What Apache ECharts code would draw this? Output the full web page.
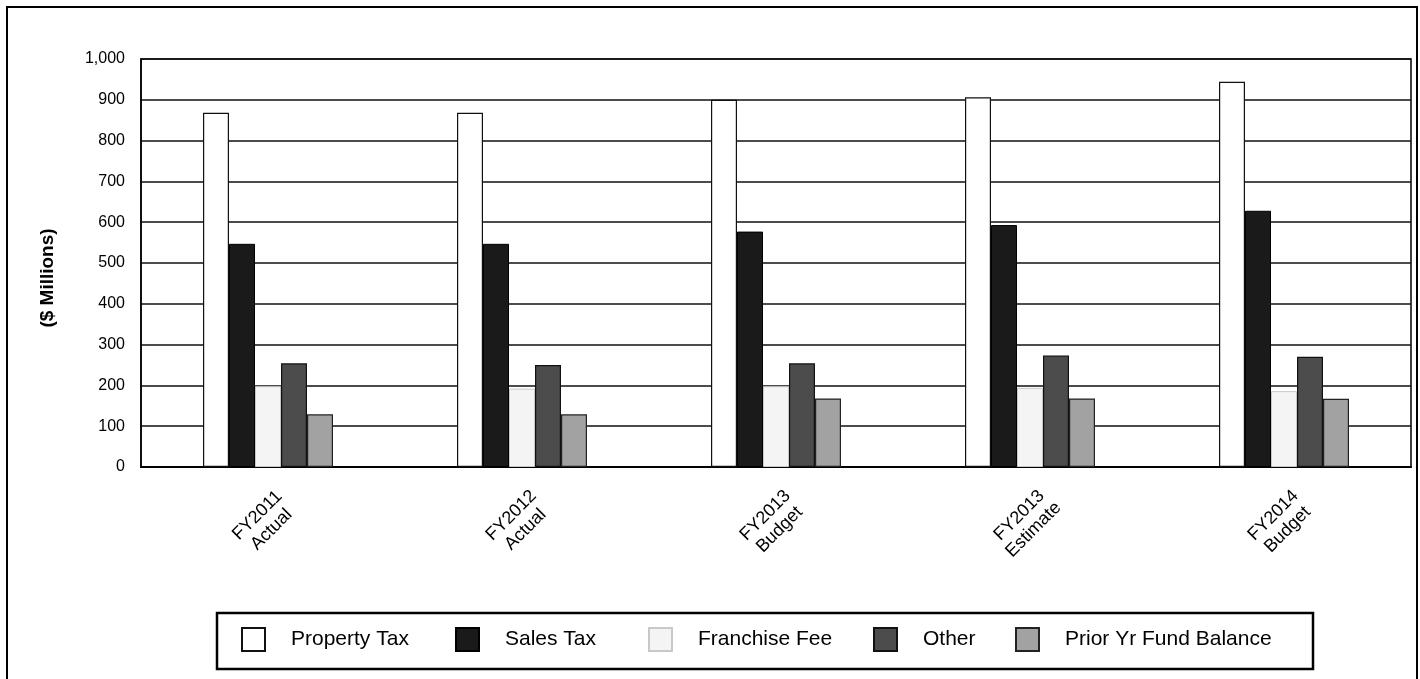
<!DOCTYPE html>
<html>
<head>
<meta charset="utf-8">
<script src="https://cdn.jsdelivr.net/npm/echarts@6/dist/echarts.min.js"></script>
<style>
html,body{margin:0;padding:0;background:#fff;}
#chart{width:1420px;height:679px;}
</style>
</head>
<body>
<div id="chart"></div>
<script>
var categories = ['FY2011\nActual', 'FY2012\nActual', 'FY2013\nBudget', 'FY2013\nEstimate', 'FY2014\nBudget'];
var propertyTax = [868, 868, 900, 906, 944];
var salesTax = [547, 547, 577, 593, 628];
var franchiseFee = [198, 192, 198, 194, 186];
var other = [254, 250, 254, 273, 270];
var priorYrFundBalance = [129, 129, 168, 168, 167];
var yTicks = { min: 0, max: 1000, interval: 100 };

var seriesDefs = [
  { name: 'Property Tax', data: propertyTax, color: '#ffffff', border: '#111111', bw: 1.2 },
  { name: 'Sales Tax', data: salesTax, color: '#1a1a1a', border: '#000000', bw: 1 },
  { name: 'Franchise Fee', data: franchiseFee, color: '#f4f4f4', border: '#c8c8c8', bw: 1 },
  { name: 'Other', data: other, color: '#4c4c4c', border: '#111111', bw: 1.2 },
  { name: 'Prior Yr Fund Balance', data: priorYrFundBalance, color: '#a2a2a2', border: '#222222', bw: 1.2 }
];

var legendLeft = [241, 455, 648, 873, 1015];
var legends = seriesDefs.map(function (s, i) {
  return {
    data: [s.name],
    left: legendLeft[i],
    top: 627,
    padding: 0,
    itemWidth: 23,
    itemHeight: 23,
    icon: 'rect',
    selectedMode: false,
    textStyle: { fontFamily: 'Liberation Sans, Arial, sans-serif', fontSize: 21, color: '#000', padding: [0, 0, 0, 21] }
  };
});

var chart = echarts.init(document.getElementById('chart'));
chart.setOption({
  animation: false,
  backgroundColor: '#ffffff',
  grid: { left: 141, right: 9, top: 59, bottom: 212, show: true, borderColor: '#000', borderWidth: 1.5, backgroundColor: 'transparent' },
  legend: legends,
  xAxis: {
    type: 'category',
    data: categories,
    axisLine: { lineStyle: { color: '#000', width: 2 } },
    axisTick: { show: false },
    axisLabel: {
      rotate: 45,
      align: 'center',
      verticalAlign: 'middle',
      margin: 52,
      padding: [0, 10, 0, 0],
      fontFamily: 'Liberation Sans, Arial, sans-serif',
      fontSize: 18,
      lineHeight: 20,
      color: '#000'
    }
  },
  yAxis: {
    type: 'value',
    min: yTicks.min,
    max: yTicks.max,
    interval: yTicks.interval,
    name: '($ Millions)',
    nameLocation: 'middle',
    nameGap: 84,
    nameRotate: 90,
    nameTextStyle: { fontFamily: 'Liberation Sans, Arial, sans-serif', fontSize: 19, fontWeight: 'bold', color: '#000', padding: [0, 30, 0, 0] },
    axisLine: { show: true, lineStyle: { color: '#000', width: 1.5 } },
    axisTick: { show: false },
    axisLabel: {
      margin: 16,
      fontFamily: 'Liberation Sans, Arial, sans-serif',
      fontSize: 16,
      color: '#000',
      formatter: function (v) { return v.toLocaleString('en-US'); }
    },
    splitLine: { lineStyle: { color: '#111', width: 1.6 } }
  },
  series: seriesDefs.map(function (s) {
    return {
      name: s.name,
      type: 'bar',
      data: s.data,
      barWidth: 26,
      barGap: '0%',
      itemStyle: { color: s.color, borderColor: s.border, borderWidth: s.bw }
    };
  }),
  graphic: [
    { type: 'rect', shape: { x: 7, y: 7, width: 1410, height: 700 }, style: { fill: 'none', stroke: '#000', lineWidth: 2 }, silent: true, z: 100 },
    { type: 'rect', shape: { x: 217, y: 613, width: 1096, height: 56 }, style: { fill: 'none', stroke: '#000', lineWidth: 2.5 }, silent: true, z: 100 }
  ]
});
</script>
</body>
</html>
